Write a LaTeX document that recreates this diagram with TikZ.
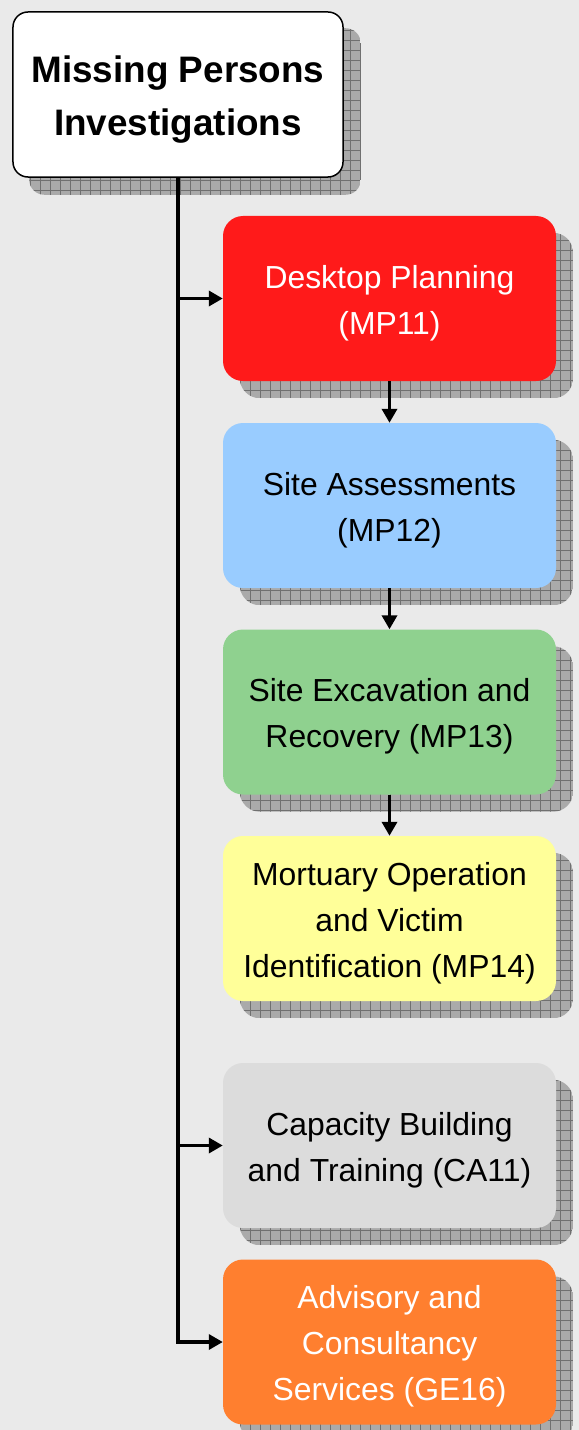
\documentclass[tikz,border=0pt]{standalone}
\usepackage{fontspec}
\setmainfont{Liberation Sans}
\usetikzlibrary{arrows.meta}
\pgfdeclarelayer{back}
\pgfdeclarelayer{shadowlayer}
\pgfsetlayers{back,shadowlayer,main}
\definecolor{bgcol}{HTML}{EAEAEA}
\definecolor{shadowfill}{HTML}{AAAAAA}
\definecolor{shadowline}{HTML}{707070}
\definecolor{redbox}{HTML}{FF1A1A}
\definecolor{bluebox}{HTML}{99CCFF}
\definecolor{greenbox}{HTML}{8FD18F}
\definecolor{yellowbox}{HTML}{FFFF99}
\definecolor{graybox}{HTML}{DCDCDC}
\definecolor{orangebox}{HTML}{FF7F2F}
\tikzset{
  stagebox/.style={rounded corners=20bp, minimum width=333bp, minimum height=165bp,
    inner sep=0pt},
  stagetext/.style={align=center, inner sep=0pt, yshift=-4.5bp,
    font=\fontsize{32}{46}\selectfont},
  titlebox/.style={rounded corners=15bp, draw=black, line width=1.5bp, fill=white,
    minimum width=330bp, minimum height=165bp, inner sep=0pt},
  titletext/.style={align=center, inner sep=0pt, yshift=-5bp,
    font=\fontsize{37}{54}\selectfont\bfseries},
  conn/.style={line width=3.4bp, black},
  arr/.style={conn, -{Triangle[length=14bp,width=15bp]}},
}
\newcommand{\boxshadow}[2]{%
  \begin{pgfonlayer}{shadowlayer}
  \begin{scope}
    \clip[rounded corners=#2] ([shift={(17,17)}]#1.north west) rectangle ([shift={(17,17)}]#1.south east);
    \fill[shadowfill] ([shift={(17,17)}]#1.north west) rectangle ([shift={(17,17)}]#1.south east);
    \draw[shadowline, line width=0.9bp, step=10bp] ([shift={(17,17)}]#1.north west) grid ([shift={(17,17)}]#1.south east);
  \end{scope}
  \end{pgfonlayer}}
\begin{document}
\begin{tikzpicture}[x=1bp,y=-1bp]
\begin{pgfonlayer}{back}
\fill[bgcol] (0,0) rectangle (579,1430);
\end{pgfonlayer}
\useasboundingbox (0,0) rectangle (579,1430);

\node[titlebox, label={[titletext]center:{Missing Persons\\Investigations}}] (title) at (178,94.5) {};
\node[stagebox, fill=redbox, label={[stagetext, text=white]center:{Desktop Planning\\(MP11)}}] (mp11) at (389.5,298.5) {};
\node[stagebox, fill=bluebox, label={[stagetext]center:{Site Assessments\\(MP12)}}] (mp12) at (389.5,505.5) {};
\node[stagebox, fill=greenbox, label={[stagetext]center:{Site Excavation and\\Recovery (MP13)}}] (mp13) at (389.5,712) {};
\node[stagebox, fill=yellowbox, label={[stagetext]center:{Mortuary Operation\\and Victim\\Identification (MP14)}}] (mp14) at (389.5,918.5) {};
\node[stagebox, fill=graybox, label={[stagetext]center:{Capacity Building\\and Training (CA11)}}] (ca11) at (389.5,1145.5) {};
\node[stagebox, fill=orangebox, label={[stagetext, text=white]center:{Advisory and\\Consultancy\\Services (GE16)}}] (ge16) at (389.5,1342) {};

\boxshadow{title}{15bp}
\boxshadow{mp11}{20bp}
\boxshadow{mp12}{20bp}
\boxshadow{mp13}{20bp}
\boxshadow{mp14}{20bp}
\boxshadow{ca11}{20bp}
\boxshadow{ge16}{20bp}

\draw[arr] (title.south) |- (ge16.west);
\draw[arr] (title.south |- mp11.west) -- (mp11.west);
\draw[arr] (title.south |- ca11.west) -- (ca11.west);
\draw[arr] (mp11.south) -- (mp12.north);
\draw[arr] (mp12.south) -- (mp13.north);
\draw[arr] (mp13.south) -- (mp14.north);
\end{tikzpicture}
\end{document}
